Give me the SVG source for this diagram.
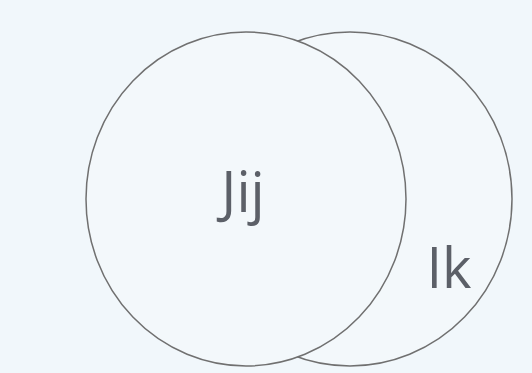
<svg xmlns="http://www.w3.org/2000/svg" width="532" height="373" viewBox="0 0 532 373">
<style>
.c{fill:#f3f8fb;stroke:#707070;stroke-width:1.5}
.t{font-family:"Open Sans","Liberation Sans",sans-serif;font-size:56px;fill:#5c6068;text-anchor:middle}
</style>
<rect width="532" height="373" fill="#f1f7fb"/>
<g id="circle-ik">
<ellipse class="c" cx="350" cy="199" rx="162" ry="167"/>
<text class="t" x="449" y="288">Ik</text>
</g>
<g id="circle-jij">
<ellipse class="c" cx="246" cy="199" rx="160" ry="167"/>
<text class="t" x="243" y="212">Jij</text>
</g>
</svg>
